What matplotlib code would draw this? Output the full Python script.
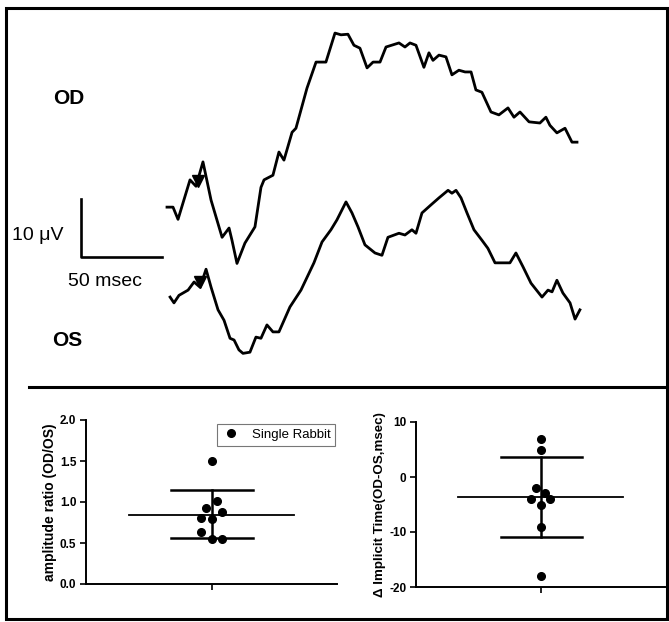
import matplotlib.pyplot as plt
from matplotlib.lines import Line2D
from matplotlib.patches import Rectangle

plt.rcParams['font.family'] = ['Liberation Sans', 'DejaVu Sans']

# ERG traces, time in ms from trace start, amplitude in uV
od_t = [0, 3.7, 6.8, 14.2, 17.9, 22.2, 27.2, 34.0, 38.3, 40.1, 43.2, 48.1, 54.3, 58.0, 59.9,
        65.4, 69.1, 72.2, 77.2, 79.6, 86.4, 92.0, 98.1, 103.7, 107.4, 111.7, 115.4, 119.1,
        123.5, 127.2, 131.5, 135.2, 143.2, 146.9, 150.0, 153.7, 158.6, 161.7, 164.2, 167.9,
        172.2, 175.9, 180.2, 184.0, 187.7, 190.7, 194.4, 200.0, 204.9, 210.5, 214.2, 217.9,
        223.5, 230.2, 233.9, 236.4, 240.7, 245.7, 250.0, 253.1]
od_v = [0, 0, -2.1, 4.7, 3.6, 7.8, 1.2, -5.2, -3.6, -5.7, -9.7, -6.2, -3.4, 3.4, 4.7,
        5.5, 9.5, 8.1, 12.9, 13.6, 20.5, 25.0, 25.0, 30.0, 29.7, 29.8, 27.9, 27.4,
        24.0, 25.0, 25.0, 27.6, 28.3, 27.6, 28.3, 27.9, 24.1, 26.6, 25.3, 26.2,
        25.9, 22.8, 23.6, 23.3, 23.3, 20.2, 19.8, 16.4, 15.9, 17.1, 15.5, 16.4,
        14.7, 14.5, 15.5, 14.1, 12.8, 13.6, 11.2, 11.2]
os_t = [1.9, 4.3, 7.4, 13.0, 16.7, 20.4, 24.1, 27.2, 31.5, 35.2, 38.9, 41.4, 44.4, 46.9,
        51.2, 54.9, 58.0, 61.7, 65.4, 69.1, 75.9, 82.7, 90.7, 95.7, 101.2, 104.9, 110.5,
        114.2, 117.9, 122.2, 128.4, 132.7, 136.4, 143.2, 146.9, 151.2, 153.7, 157.4, 163.0,
        167.9, 173.5, 175.9, 178.4, 181.5, 185.2, 189.5, 194.4, 198.1, 202.5, 207.4, 211.7,
        215.4, 219.8, 224.7, 231.5, 235.2, 237.7, 240.7, 244.4, 248.8, 251.9, 254.9]
os_v = [0, -1.0, 0.3, 1.2, 2.6, 1.7, 4.8, 1.7, -2.2, -4.0, -7.1, -7.4, -9.1, -9.7,
        -9.5, -6.9, -7.1, -4.8, -6.0, -6.0, -1.7, 1.2, 5.9, 9.5, 11.6, 13.3, 16.4,
        14.5, 12.1, 9.0, 7.6, 7.2, 10.3, 11.0, 10.7, 11.6, 11.0, 14.5, 15.9,
        17.1, 18.4, 17.9, 18.4, 17.1, 14.5, 11.6, 9.8, 8.4, 5.9, 5.9, 5.9,
        7.6, 5.2, 2.4, 0, 1.2, 0.9, 2.9, 0.7, -1.0, -3.8, -2.2]
od_offset = 15.5
od_arrow = (19.1, 4.5)
os_arrow = (20.4, 2.6)

# summary data
ratio = [1.50, 1.01, 0.93, 0.88, 0.80, 0.79, 0.63, 0.55, 0.55]
ratio_x = [0, 0.04, -0.04, 0.08, -0.08, 0, -0.08, 0, 0.08]
ratio_mean, ratio_hi, ratio_lo = 0.84, 1.146, 0.56
dtime = [6.9, 4.9, -2.0, -2.9, -4.0, -4.0, -5.1, -9.1, -18.0]
dtime_x = [0, 0, -0.04, 0.04, -0.08, 0.08, 0, 0, 0]
dtime_mean, dtime_hi, dtime_lo = -3.7, 3.6, -10.9

fig = plt.figure(figsize=(6.69, 6.22), dpi=100)
W, H = 669, 622

def fx(px):
    return px / W

def fy(py):
    return 1 - py / H

# top: traces
ax = fig.add_axes([0, 0, 1, 1])
ax.set_xlim(-103.1, 309.9)
ax.set_ylim(-56.0, 51.2)
ax.axis('off')
ax.plot(od_t, [v + od_offset for v in od_v], color='black', lw=2.0, solid_joinstyle='round')
ax.plot(os_t, os_v, color='black', lw=2.0, solid_joinstyle='round')
ax.plot(od_arrow[0], od_arrow[1] + od_offset, marker='v', color='black', ms=9)
ax.plot(os_arrow[0], os_arrow[1], marker='v', color='black', ms=9)
# scale bar 50 ms x 10 uV
ax.plot([-3.1, -53.1, -53.1], [6.9, 6.9, 16.9], color='black', lw=1.9)

fig.text(fx(53), fy(99), 'OD', fontsize=15, fontweight='bold', va='center', ha='left')
fig.text(fx(52), fy(341), 'OS', fontsize=15, fontweight='bold', va='center', ha='left')
fig.text(fx(12), fy(236), '10 μV', fontsize=14, va='center', ha='left')
fig.text(fx(68), fy(281), '50 msec', fontsize=14, va='center', ha='left')

# frame and divider
fig.add_artist(Rectangle((fx(6), fy(619)), fx(667) - fx(6), fy(8) - fy(619),
                         transform=fig.transFigure, fill=False, lw=2.2, ec='black'))
fig.add_artist(Line2D([fx(29), 1], [fy(387), fy(387)], transform=fig.transFigure,
                      lw=2.2, color='black'))


def summary(axb, xs, ys, mean, hi, lo):
    axb.plot([-0.66, 0.66], [mean, mean], color='black', lw=1.3)
    axb.plot([-0.32, 0.33], [hi, hi], color='black', lw=1.8)
    axb.plot([-0.32, 0.33], [lo, lo], color='black', lw=1.8)
    axb.plot([0, 0], [lo, hi], color='black', lw=1.8)
    axb.plot(xs, ys, 'o', color='black', ms=5.5, label='Single Rabbit', zorder=3)
    axb.set_xlim(-1, 1)
    axb.set_xticks([0])
    axb.set_xticklabels([''])
    for s in ['top', 'right']:
        axb.spines[s].set_visible(False)
    for s in ['left', 'bottom']:
        axb.spines[s].set_linewidth(1.4)
    axb.tick_params(width=1.2, length=4, labelsize=8.5, pad=3)


ax1 = fig.add_axes([fx(86), fy(584), fx(337) - fx(86), fy(420) - fy(584)])
summary(ax1, ratio_x, ratio, ratio_mean, ratio_hi, ratio_lo)
ax1.set_ylim(0, 2.0)
ax1.set_yticks([0, 0.5, 1.0, 1.5, 2.0])
ax1.set_yticklabels(['0.0', '0.5', '1.0', '1.5', '2.0'], fontweight='bold')
ax1.set_ylabel('amplitude ratio (OD/OS)', fontsize=10, fontweight='bold', labelpad=2)
leg = ax1.legend(loc='upper right', bbox_to_anchor=(1.02, 1.015), fontsize=9.5, frameon=True,
                 fancybox=False, edgecolor='#555555', handletextpad=0.9, borderpad=0.35,
                 handlelength=1.4)
leg.get_frame().set_linewidth(0.8)

ax2 = fig.add_axes([fx(416), fy(587), fx(665) - fx(416), fy(422) - fy(587)])
summary(ax2, dtime_x, dtime, dtime_mean, dtime_hi, dtime_lo)
ax2.set_ylim(-20, 10)
ax2.set_yticks([-20, -10, 0, 10])
ax2.set_yticklabels(['-20', '-10', '0', '10'], fontweight='bold')
ax2.set_ylabel('Δ Implicit Time(OD-OS,msec)', fontsize=9.6, fontweight='bold', labelpad=2)

plt.savefig('out.png', dpi=100)
plt.close()
